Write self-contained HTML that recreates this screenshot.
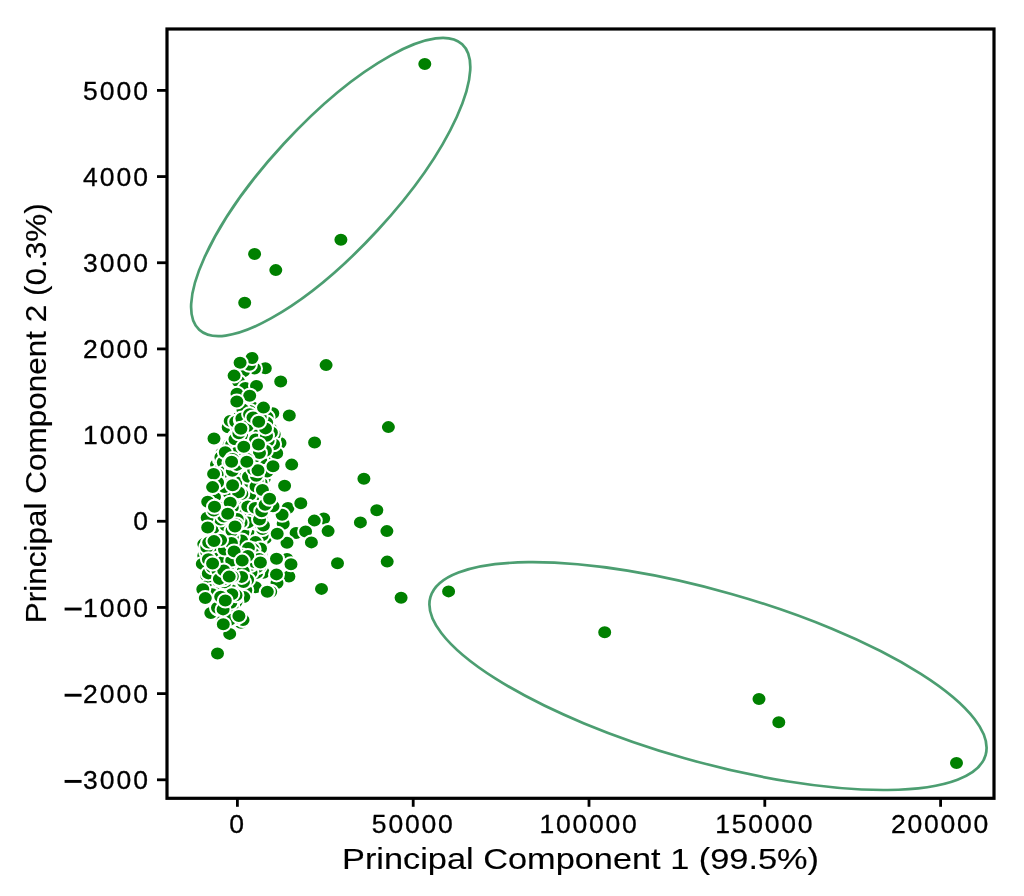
<!DOCTYPE html>
<html><head><meta charset="utf-8"><style>html,body{margin:0;padding:0;background:#fff;overflow:hidden;width:1024px;height:896px;}svg{display:block;will-change:transform;}</style></head>
<body>
<svg width="1024" height="896" viewBox="0 0 1024 896">
<rect width="1024" height="896" fill="#fff"/>
<g fill="#008000" stroke="#fff" stroke-width="2.0">
<ellipse cx="265.3" cy="368.3" rx="7.5" ry="7.0"/>
<ellipse cx="254.5" cy="368.5" rx="7.5" ry="7.0"/>
<ellipse cx="243.5" cy="371.3" rx="7.5" ry="7.0"/>
<ellipse cx="249.4" cy="364.8" rx="7.5" ry="7.0"/>
<ellipse cx="252.0" cy="358.0" rx="7.5" ry="7.0"/>
<ellipse cx="238.5" cy="381.5" rx="7.5" ry="7.0"/>
<ellipse cx="245.3" cy="387.9" rx="7.5" ry="7.0"/>
<ellipse cx="237.0" cy="393.7" rx="7.5" ry="7.0"/>
<ellipse cx="255.5" cy="587.3" rx="7.5" ry="7.0"/>
<ellipse cx="229.7" cy="633.9" rx="7.5" ry="7.0"/>
<ellipse cx="288.9" cy="576.5" rx="7.5" ry="7.0"/>
<ellipse cx="288.0" cy="508.0" rx="7.5" ry="7.0"/>
<ellipse cx="283.2" cy="523.8" rx="7.5" ry="7.0"/>
<ellipse cx="282.1" cy="514.8" rx="7.5" ry="7.0"/>
<ellipse cx="247.7" cy="535.3" rx="7.5" ry="7.0"/>
<ellipse cx="247.7" cy="529.5" rx="7.5" ry="7.0"/>
<ellipse cx="256.4" cy="531.3" rx="7.5" ry="7.0"/>
<ellipse cx="208.7" cy="578.1" rx="7.5" ry="7.0"/>
<ellipse cx="271.1" cy="454.0" rx="7.5" ry="7.0"/>
<ellipse cx="247.3" cy="516.5" rx="7.5" ry="7.0"/>
<ellipse cx="219.9" cy="464.6" rx="7.5" ry="7.0"/>
<ellipse cx="241.1" cy="589.3" rx="7.5" ry="7.0"/>
<ellipse cx="232.7" cy="440.3" rx="7.5" ry="7.0"/>
<ellipse cx="255.2" cy="540.1" rx="7.5" ry="7.0"/>
<ellipse cx="242.0" cy="535.1" rx="7.5" ry="7.0"/>
<ellipse cx="265.3" cy="538.2" rx="7.5" ry="7.0"/>
<ellipse cx="272.8" cy="413.2" rx="7.5" ry="7.0"/>
<ellipse cx="245.8" cy="590.3" rx="7.5" ry="7.0"/>
<ellipse cx="225.1" cy="492.9" rx="7.5" ry="7.0"/>
<ellipse cx="249.2" cy="574.6" rx="7.5" ry="7.0"/>
<ellipse cx="228.2" cy="427.2" rx="7.5" ry="7.0"/>
<ellipse cx="242.9" cy="491.0" rx="7.5" ry="7.0"/>
<ellipse cx="245.8" cy="513.8" rx="7.5" ry="7.0"/>
<ellipse cx="210.6" cy="584.4" rx="7.5" ry="7.0"/>
<ellipse cx="253.0" cy="535.8" rx="7.5" ry="7.0"/>
<ellipse cx="217.5" cy="554.8" rx="7.5" ry="7.0"/>
<ellipse cx="270.2" cy="451.0" rx="7.5" ry="7.0"/>
<ellipse cx="229.2" cy="444.8" rx="7.5" ry="7.0"/>
<ellipse cx="221.4" cy="453.6" rx="7.5" ry="7.0"/>
<ellipse cx="226.2" cy="588.1" rx="7.5" ry="7.0"/>
<ellipse cx="213.1" cy="517.8" rx="7.5" ry="7.0"/>
<ellipse cx="216.5" cy="464.6" rx="7.5" ry="7.0"/>
<ellipse cx="213.2" cy="573.3" rx="7.5" ry="7.0"/>
<ellipse cx="241.9" cy="541.1" rx="7.5" ry="7.0"/>
<ellipse cx="224.3" cy="531.4" rx="7.5" ry="7.0"/>
<ellipse cx="224.1" cy="613.8" rx="7.5" ry="7.0"/>
<ellipse cx="226.0" cy="618.2" rx="7.5" ry="7.0"/>
<ellipse cx="231.4" cy="566.7" rx="7.5" ry="7.0"/>
<ellipse cx="248.1" cy="446.3" rx="7.5" ry="7.0"/>
<ellipse cx="229.5" cy="555.5" rx="7.5" ry="7.0"/>
<ellipse cx="287.0" cy="559.0" rx="7.5" ry="7.0"/>
<ellipse cx="280.0" cy="443.0" rx="7.5" ry="7.0"/>
<ellipse cx="296.1" cy="533.0" rx="7.5" ry="7.0"/>
<ellipse cx="244.9" cy="445.6" rx="7.5" ry="7.0"/>
<ellipse cx="267.1" cy="417.1" rx="7.5" ry="7.0"/>
<ellipse cx="252.6" cy="407.7" rx="7.5" ry="7.0"/>
<ellipse cx="235.0" cy="437.0" rx="7.5" ry="7.0"/>
<ellipse cx="229.4" cy="570.2" rx="7.5" ry="7.0"/>
<ellipse cx="220.8" cy="525.6" rx="7.5" ry="7.0"/>
<ellipse cx="230.4" cy="588.3" rx="7.5" ry="7.0"/>
<ellipse cx="219.7" cy="531.6" rx="7.5" ry="7.0"/>
<ellipse cx="261.3" cy="445.8" rx="7.5" ry="7.0"/>
<ellipse cx="220.4" cy="459.4" rx="7.5" ry="7.0"/>
<ellipse cx="237.5" cy="447.0" rx="7.5" ry="7.0"/>
<ellipse cx="272.6" cy="439.8" rx="7.5" ry="7.0"/>
<ellipse cx="243.9" cy="549.9" rx="7.5" ry="7.0"/>
<ellipse cx="247.7" cy="437.0" rx="7.5" ry="7.0"/>
<ellipse cx="207.4" cy="564.8" rx="7.5" ry="7.0"/>
<ellipse cx="223.9" cy="459.9" rx="7.5" ry="7.0"/>
<ellipse cx="259.0" cy="543.0" rx="7.5" ry="7.0"/>
<ellipse cx="220.9" cy="457.3" rx="7.5" ry="7.0"/>
<ellipse cx="261.4" cy="552.9" rx="7.5" ry="7.0"/>
<ellipse cx="254.0" cy="522.4" rx="7.5" ry="7.0"/>
<ellipse cx="206.7" cy="575.6" rx="7.5" ry="7.0"/>
<ellipse cx="263.4" cy="572.7" rx="7.5" ry="7.0"/>
<ellipse cx="236.3" cy="589.5" rx="7.5" ry="7.0"/>
<ellipse cx="214.0" cy="582.9" rx="7.5" ry="7.0"/>
<ellipse cx="235.5" cy="552.4" rx="7.5" ry="7.0"/>
<ellipse cx="236.8" cy="584.0" rx="7.5" ry="7.0"/>
<ellipse cx="323.7" cy="518.5" rx="7.5" ry="7.0"/>
<ellipse cx="224.2" cy="477.0" rx="7.5" ry="7.0"/>
<ellipse cx="249.2" cy="543.4" rx="7.5" ry="7.0"/>
<ellipse cx="211.6" cy="561.1" rx="7.5" ry="7.0"/>
<ellipse cx="224.8" cy="489.6" rx="7.5" ry="7.0"/>
<ellipse cx="231.4" cy="450.1" rx="7.5" ry="7.0"/>
<ellipse cx="234.1" cy="494.9" rx="7.5" ry="7.0"/>
<ellipse cx="223.3" cy="553.2" rx="7.5" ry="7.0"/>
<ellipse cx="250.8" cy="434.6" rx="7.5" ry="7.0"/>
<ellipse cx="248.3" cy="424.0" rx="7.5" ry="7.0"/>
<ellipse cx="266.4" cy="456.1" rx="7.5" ry="7.0"/>
<ellipse cx="232.6" cy="513.4" rx="7.5" ry="7.0"/>
<ellipse cx="277.0" cy="583.0" rx="7.5" ry="7.0"/>
<ellipse cx="220.4" cy="616.0" rx="7.5" ry="7.0"/>
<ellipse cx="243.8" cy="597.1" rx="7.5" ry="7.0"/>
<ellipse cx="243.3" cy="469.7" rx="7.5" ry="7.0"/>
<ellipse cx="235.4" cy="561.3" rx="7.5" ry="7.0"/>
<ellipse cx="235.0" cy="472.5" rx="7.5" ry="7.0"/>
<ellipse cx="244.5" cy="480.1" rx="7.5" ry="7.0"/>
<ellipse cx="222.3" cy="616.2" rx="7.5" ry="7.0"/>
<ellipse cx="226.6" cy="567.1" rx="7.5" ry="7.0"/>
<ellipse cx="256.5" cy="494.2" rx="7.5" ry="7.0"/>
<ellipse cx="217.8" cy="500.1" rx="7.5" ry="7.0"/>
<ellipse cx="236.0" cy="602.0" rx="7.5" ry="7.0"/>
<ellipse cx="238.7" cy="417.6" rx="7.5" ry="7.0"/>
<ellipse cx="212.2" cy="549.0" rx="7.5" ry="7.0"/>
<ellipse cx="262.8" cy="438.3" rx="7.5" ry="7.0"/>
<ellipse cx="237.9" cy="536.0" rx="7.5" ry="7.0"/>
<ellipse cx="262.1" cy="535.3" rx="7.5" ry="7.0"/>
<ellipse cx="262.4" cy="529.0" rx="7.5" ry="7.0"/>
<ellipse cx="220.7" cy="469.5" rx="7.5" ry="7.0"/>
<ellipse cx="214.0" cy="492.3" rx="7.5" ry="7.0"/>
<ellipse cx="237.9" cy="471.0" rx="7.5" ry="7.0"/>
<ellipse cx="255.5" cy="505.0" rx="7.5" ry="7.0"/>
<ellipse cx="243.8" cy="451.0" rx="7.5" ry="7.0"/>
<ellipse cx="240.9" cy="622.7" rx="7.5" ry="7.0"/>
<ellipse cx="237.2" cy="487.3" rx="7.5" ry="7.0"/>
<ellipse cx="231.4" cy="475.7" rx="7.5" ry="7.0"/>
<ellipse cx="231.9" cy="607.0" rx="7.5" ry="7.0"/>
<ellipse cx="203.8" cy="555.8" rx="7.5" ry="7.0"/>
<ellipse cx="268.7" cy="462.3" rx="7.5" ry="7.0"/>
<ellipse cx="235.6" cy="500.8" rx="7.5" ry="7.0"/>
<ellipse cx="238.5" cy="584.4" rx="7.5" ry="7.0"/>
<ellipse cx="252.6" cy="426.3" rx="7.5" ry="7.0"/>
<ellipse cx="232.5" cy="519.8" rx="7.5" ry="7.0"/>
<ellipse cx="276.7" cy="453.3" rx="7.5" ry="7.0"/>
<ellipse cx="255.5" cy="542.1" rx="7.5" ry="7.0"/>
<ellipse cx="256.7" cy="572.9" rx="7.5" ry="7.0"/>
<ellipse cx="262.8" cy="428.0" rx="7.5" ry="7.0"/>
<ellipse cx="218.5" cy="535.4" rx="7.5" ry="7.0"/>
<ellipse cx="226.0" cy="596.7" rx="7.5" ry="7.0"/>
<ellipse cx="224.8" cy="512.6" rx="7.5" ry="7.0"/>
<ellipse cx="238.5" cy="528.5" rx="7.5" ry="7.0"/>
<ellipse cx="266.2" cy="446.9" rx="7.5" ry="7.0"/>
<ellipse cx="223.0" cy="543.3" rx="7.5" ry="7.0"/>
<ellipse cx="229.1" cy="585.7" rx="7.5" ry="7.0"/>
<ellipse cx="241.3" cy="505.2" rx="7.5" ry="7.0"/>
<ellipse cx="242.2" cy="429.5" rx="7.5" ry="7.0"/>
<ellipse cx="254.8" cy="501.9" rx="7.5" ry="7.0"/>
<ellipse cx="249.0" cy="463.8" rx="7.5" ry="7.0"/>
<ellipse cx="249.2" cy="452.3" rx="7.5" ry="7.0"/>
<ellipse cx="259.8" cy="420.5" rx="7.5" ry="7.0"/>
<ellipse cx="230.2" cy="420.9" rx="7.5" ry="7.0"/>
<ellipse cx="220.2" cy="603.2" rx="7.5" ry="7.0"/>
<ellipse cx="219.7" cy="555.7" rx="7.5" ry="7.0"/>
<ellipse cx="235.4" cy="457.8" rx="7.5" ry="7.0"/>
<ellipse cx="244.0" cy="439.4" rx="7.5" ry="7.0"/>
<ellipse cx="259.7" cy="488.8" rx="7.5" ry="7.0"/>
<ellipse cx="203.8" cy="544.1" rx="7.5" ry="7.0"/>
<ellipse cx="274.2" cy="434.2" rx="7.5" ry="7.0"/>
<ellipse cx="230.0" cy="523.0" rx="7.5" ry="7.0"/>
<ellipse cx="273.6" cy="444.3" rx="7.5" ry="7.0"/>
<ellipse cx="225.3" cy="498.2" rx="7.5" ry="7.0"/>
<ellipse cx="232.7" cy="488.2" rx="7.5" ry="7.0"/>
<ellipse cx="202.3" cy="563.9" rx="7.5" ry="7.0"/>
<ellipse cx="226.3" cy="469.5" rx="7.5" ry="7.0"/>
<ellipse cx="236.3" cy="542.3" rx="7.5" ry="7.0"/>
<ellipse cx="238.7" cy="513.5" rx="7.5" ry="7.0"/>
<ellipse cx="214.1" cy="501.1" rx="7.5" ry="7.0"/>
<ellipse cx="237.8" cy="547.2" rx="7.5" ry="7.0"/>
<ellipse cx="254.5" cy="428.7" rx="7.5" ry="7.0"/>
<ellipse cx="238.7" cy="507.0" rx="7.5" ry="7.0"/>
<ellipse cx="260.2" cy="498.7" rx="7.5" ry="7.0"/>
<ellipse cx="255.7" cy="453.9" rx="7.5" ry="7.0"/>
<ellipse cx="259.7" cy="566.2" rx="7.5" ry="7.0"/>
<ellipse cx="214.2" cy="536.7" rx="7.5" ry="7.0"/>
<ellipse cx="249.6" cy="498.4" rx="7.5" ry="7.0"/>
<ellipse cx="266.4" cy="441.1" rx="7.5" ry="7.0"/>
<ellipse cx="238.0" cy="428.7" rx="7.5" ry="7.0"/>
<ellipse cx="256.9" cy="567.3" rx="7.5" ry="7.0"/>
<ellipse cx="261.1" cy="432.3" rx="7.5" ry="7.0"/>
<ellipse cx="249.6" cy="438.5" rx="7.5" ry="7.0"/>
<ellipse cx="236.7" cy="477.4" rx="7.5" ry="7.0"/>
<ellipse cx="214.9" cy="577.6" rx="7.5" ry="7.0"/>
<ellipse cx="231.1" cy="566.8" rx="7.5" ry="7.0"/>
<ellipse cx="220.2" cy="566.7" rx="7.5" ry="7.0"/>
<ellipse cx="260.2" cy="523.7" rx="7.5" ry="7.0"/>
<ellipse cx="241.9" cy="482.2" rx="7.5" ry="7.0"/>
<ellipse cx="249.6" cy="489.8" rx="7.5" ry="7.0"/>
<ellipse cx="223.3" cy="462.2" rx="7.5" ry="7.0"/>
<ellipse cx="225.5" cy="602.3" rx="7.5" ry="7.0"/>
<ellipse cx="250.3" cy="559.8" rx="7.5" ry="7.0"/>
<ellipse cx="230.0" cy="614.9" rx="7.5" ry="7.0"/>
<ellipse cx="223.1" cy="536.0" rx="7.5" ry="7.0"/>
<ellipse cx="243.0" cy="620.0" rx="7.5" ry="7.0"/>
<ellipse cx="241.1" cy="518.0" rx="7.5" ry="7.0"/>
<ellipse cx="224.0" cy="506.9" rx="7.5" ry="7.0"/>
<ellipse cx="213.9" cy="552.9" rx="7.5" ry="7.0"/>
<ellipse cx="208.2" cy="585.5" rx="7.5" ry="7.0"/>
<ellipse cx="217.5" cy="589.9" rx="7.5" ry="7.0"/>
<ellipse cx="256.9" cy="433.9" rx="7.5" ry="7.0"/>
<ellipse cx="224.3" cy="483.2" rx="7.5" ry="7.0"/>
<ellipse cx="249.7" cy="411.0" rx="7.5" ry="7.0"/>
<ellipse cx="235.5" cy="564.2" rx="7.5" ry="7.0"/>
<ellipse cx="260.4" cy="456.4" rx="7.5" ry="7.0"/>
<ellipse cx="243.8" cy="529.1" rx="7.5" ry="7.0"/>
<ellipse cx="255.3" cy="511.8" rx="7.5" ry="7.0"/>
<ellipse cx="229.9" cy="547.4" rx="7.5" ry="7.0"/>
<ellipse cx="206.7" cy="551.9" rx="7.5" ry="7.0"/>
<ellipse cx="253.5" cy="465.8" rx="7.5" ry="7.0"/>
<ellipse cx="242.9" cy="532.3" rx="7.5" ry="7.0"/>
<ellipse cx="227.2" cy="563.6" rx="7.5" ry="7.0"/>
<ellipse cx="231.1" cy="483.1" rx="7.5" ry="7.0"/>
<ellipse cx="223.6" cy="528.2" rx="7.5" ry="7.0"/>
<ellipse cx="235.3" cy="618.2" rx="7.5" ry="7.0"/>
<ellipse cx="244.8" cy="502.7" rx="7.5" ry="7.0"/>
<ellipse cx="271.1" cy="429.3" rx="7.5" ry="7.0"/>
<ellipse cx="231.6" cy="444.8" rx="7.5" ry="7.0"/>
<ellipse cx="259.8" cy="475.0" rx="7.5" ry="7.0"/>
<ellipse cx="244.5" cy="513.9" rx="7.5" ry="7.0"/>
<ellipse cx="210.8" cy="613.0" rx="7.5" ry="7.0"/>
<ellipse cx="243.0" cy="501.1" rx="7.5" ry="7.0"/>
<ellipse cx="273.0" cy="506.3" rx="7.5" ry="7.0"/>
<ellipse cx="270.7" cy="591.8" rx="7.5" ry="7.0"/>
<ellipse cx="250.8" cy="493.5" rx="7.5" ry="7.0"/>
<ellipse cx="268.1" cy="440.7" rx="7.5" ry="7.0"/>
<ellipse cx="208.3" cy="573.4" rx="7.5" ry="7.0"/>
<ellipse cx="212.9" cy="523.6" rx="7.5" ry="7.0"/>
<ellipse cx="241.9" cy="477.2" rx="7.5" ry="7.0"/>
<ellipse cx="255.6" cy="447.7" rx="7.5" ry="7.0"/>
<ellipse cx="251.0" cy="572.5" rx="7.5" ry="7.0"/>
<ellipse cx="241.5" cy="435.3" rx="7.5" ry="7.0"/>
<ellipse cx="261.7" cy="465.9" rx="7.5" ry="7.0"/>
<ellipse cx="250.9" cy="564.9" rx="7.5" ry="7.0"/>
<ellipse cx="212.7" cy="529.0" rx="7.5" ry="7.0"/>
<ellipse cx="219.3" cy="486.3" rx="7.5" ry="7.0"/>
<ellipse cx="255.6" cy="439.5" rx="7.5" ry="7.0"/>
<ellipse cx="211.3" cy="590.1" rx="7.5" ry="7.0"/>
<ellipse cx="259.0" cy="450.5" rx="7.5" ry="7.0"/>
<ellipse cx="235.5" cy="597.6" rx="7.5" ry="7.0"/>
<ellipse cx="271.4" cy="432.5" rx="7.5" ry="7.0"/>
<ellipse cx="235.0" cy="439.3" rx="7.5" ry="7.0"/>
<ellipse cx="250.0" cy="510.6" rx="7.5" ry="7.0"/>
<ellipse cx="243.3" cy="465.6" rx="7.5" ry="7.0"/>
<ellipse cx="219.6" cy="583.1" rx="7.5" ry="7.0"/>
<ellipse cx="260.0" cy="504.5" rx="7.5" ry="7.0"/>
<ellipse cx="261.3" cy="517.7" rx="7.5" ry="7.0"/>
<ellipse cx="242.7" cy="453.3" rx="7.5" ry="7.0"/>
<ellipse cx="225.5" cy="471.4" rx="7.5" ry="7.0"/>
<ellipse cx="220.2" cy="492.5" rx="7.5" ry="7.0"/>
<ellipse cx="253.8" cy="561.9" rx="7.5" ry="7.0"/>
<ellipse cx="266.5" cy="435.7" rx="7.5" ry="7.0"/>
<ellipse cx="260.8" cy="495.1" rx="7.5" ry="7.0"/>
<ellipse cx="259.5" cy="552.7" rx="7.5" ry="7.0"/>
<ellipse cx="241.2" cy="560.8" rx="7.5" ry="7.0"/>
<ellipse cx="232.8" cy="498.5" rx="7.5" ry="7.0"/>
<ellipse cx="212.5" cy="567.2" rx="7.5" ry="7.0"/>
<ellipse cx="223.3" cy="585.4" rx="7.5" ry="7.0"/>
<ellipse cx="260.9" cy="461.0" rx="7.5" ry="7.0"/>
<ellipse cx="249.7" cy="494.9" rx="7.5" ry="7.0"/>
<ellipse cx="211.5" cy="542.2" rx="7.5" ry="7.0"/>
<ellipse cx="214.5" cy="496.9" rx="7.5" ry="7.0"/>
<ellipse cx="235.3" cy="570.4" rx="7.5" ry="7.0"/>
<ellipse cx="225.9" cy="525.6" rx="7.5" ry="7.0"/>
<ellipse cx="260.5" cy="548.4" rx="7.5" ry="7.0"/>
<ellipse cx="243.4" cy="487.8" rx="7.5" ry="7.0"/>
<ellipse cx="215.0" cy="593.2" rx="7.5" ry="7.0"/>
<ellipse cx="237.6" cy="577.7" rx="7.5" ry="7.0"/>
<ellipse cx="241.6" cy="540.5" rx="7.5" ry="7.0"/>
<ellipse cx="230.8" cy="602.8" rx="7.5" ry="7.0"/>
<ellipse cx="266.7" cy="422.6" rx="7.5" ry="7.0"/>
<ellipse cx="236.3" cy="453.0" rx="7.5" ry="7.0"/>
<ellipse cx="232.3" cy="537.3" rx="7.5" ry="7.0"/>
<ellipse cx="217.9" cy="570.3" rx="7.5" ry="7.0"/>
<ellipse cx="217.9" cy="548.0" rx="7.5" ry="7.0"/>
<ellipse cx="253.2" cy="518.1" rx="7.5" ry="7.0"/>
<ellipse cx="236.0" cy="595.2" rx="7.5" ry="7.0"/>
<ellipse cx="242.0" cy="567.0" rx="7.5" ry="7.0"/>
<ellipse cx="247.8" cy="506.5" rx="7.5" ry="7.0"/>
<ellipse cx="220.6" cy="519.6" rx="7.5" ry="7.0"/>
<ellipse cx="224.9" cy="582.2" rx="7.5" ry="7.0"/>
<ellipse cx="232.0" cy="530.7" rx="7.5" ry="7.0"/>
<ellipse cx="243.2" cy="571.2" rx="7.5" ry="7.0"/>
<ellipse cx="253.1" cy="549.2" rx="7.5" ry="7.0"/>
<ellipse cx="229.7" cy="494.1" rx="7.5" ry="7.0"/>
<ellipse cx="259.9" cy="471.9" rx="7.5" ry="7.0"/>
<ellipse cx="248.0" cy="522.4" rx="7.5" ry="7.0"/>
<ellipse cx="265.4" cy="450.8" rx="7.5" ry="7.0"/>
<ellipse cx="207.2" cy="517.7" rx="7.5" ry="7.0"/>
<ellipse cx="225.3" cy="452.3" rx="7.5" ry="7.0"/>
<ellipse cx="241.1" cy="522.4" rx="7.5" ry="7.0"/>
<ellipse cx="247.6" cy="579.7" rx="7.5" ry="7.0"/>
<ellipse cx="217.9" cy="558.6" rx="7.5" ry="7.0"/>
<ellipse cx="264.3" cy="478.3" rx="7.5" ry="7.0"/>
<ellipse cx="244.0" cy="458.2" rx="7.5" ry="7.0"/>
<ellipse cx="223.1" cy="561.8" rx="7.5" ry="7.0"/>
<ellipse cx="217.0" cy="511.0" rx="7.5" ry="7.0"/>
<ellipse cx="250.6" cy="468.6" rx="7.5" ry="7.0"/>
<ellipse cx="261.0" cy="482.7" rx="7.5" ry="7.0"/>
<ellipse cx="253.1" cy="553.8" rx="7.5" ry="7.0"/>
<ellipse cx="206.8" cy="547.2" rx="7.5" ry="7.0"/>
<ellipse cx="236.0" cy="482.3" rx="7.5" ry="7.0"/>
<ellipse cx="259.2" cy="559.1" rx="7.5" ry="7.0"/>
<ellipse cx="267.1" cy="471.5" rx="7.5" ry="7.0"/>
<ellipse cx="263.4" cy="525.5" rx="7.5" ry="7.0"/>
<ellipse cx="223.4" cy="579.3" rx="7.5" ry="7.0"/>
<ellipse cx="248.4" cy="548.1" rx="7.5" ry="7.0"/>
<ellipse cx="260.2" cy="417.0" rx="7.5" ry="7.0"/>
<ellipse cx="218.4" cy="608.8" rx="7.5" ry="7.0"/>
<ellipse cx="208.4" cy="559.2" rx="7.5" ry="7.0"/>
<ellipse cx="243.5" cy="582.1" rx="7.5" ry="7.0"/>
<ellipse cx="212.1" cy="594.3" rx="7.5" ry="7.0"/>
<ellipse cx="232.3" cy="470.7" rx="7.5" ry="7.0"/>
<ellipse cx="238.9" cy="433.3" rx="7.5" ry="7.0"/>
<ellipse cx="217.5" cy="607.7" rx="7.5" ry="7.0"/>
<ellipse cx="241.4" cy="555.3" rx="7.5" ry="7.0"/>
<ellipse cx="254.6" cy="456.9" rx="7.5" ry="7.0"/>
<ellipse cx="255.2" cy="507.9" rx="7.5" ry="7.0"/>
<ellipse cx="257.0" cy="481.1" rx="7.5" ry="7.0"/>
<ellipse cx="249.7" cy="474.4" rx="7.5" ry="7.0"/>
<ellipse cx="250.7" cy="482.4" rx="7.5" ry="7.0"/>
<ellipse cx="243.9" cy="414.1" rx="7.5" ry="7.0"/>
<ellipse cx="224.3" cy="487.1" rx="7.5" ry="7.0"/>
<ellipse cx="232.3" cy="507.4" rx="7.5" ry="7.0"/>
<ellipse cx="255.9" cy="421.7" rx="7.5" ry="7.0"/>
<ellipse cx="248.5" cy="476.8" rx="7.5" ry="7.0"/>
<ellipse cx="241.7" cy="576.9" rx="7.5" ry="7.0"/>
<ellipse cx="235.7" cy="421.7" rx="7.5" ry="7.0"/>
<ellipse cx="242.9" cy="409.6" rx="7.5" ry="7.0"/>
<ellipse cx="232.3" cy="576.5" rx="7.5" ry="7.0"/>
<ellipse cx="241.3" cy="420.1" rx="7.5" ry="7.0"/>
<ellipse cx="208.7" cy="542.6" rx="7.5" ry="7.0"/>
<ellipse cx="256.0" cy="486.5" rx="7.5" ry="7.0"/>
<ellipse cx="231.8" cy="594.3" rx="7.5" ry="7.0"/>
<ellipse cx="241.9" cy="418.4" rx="7.5" ry="7.0"/>
<ellipse cx="217.1" cy="474.5" rx="7.5" ry="7.0"/>
<ellipse cx="249.6" cy="414.3" rx="7.5" ry="7.0"/>
<ellipse cx="232.5" cy="458.9" rx="7.5" ry="7.0"/>
<ellipse cx="265.5" cy="428.4" rx="7.5" ry="7.0"/>
<ellipse cx="259.5" cy="519.6" rx="7.5" ry="7.0"/>
<ellipse cx="231.7" cy="560.5" rx="7.5" ry="7.0"/>
<ellipse cx="241.8" cy="493.9" rx="7.5" ry="7.0"/>
<ellipse cx="256.3" cy="475.7" rx="7.5" ry="7.0"/>
<ellipse cx="253.5" cy="469.3" rx="7.5" ry="7.0"/>
<ellipse cx="259.5" cy="453.0" rx="7.5" ry="7.0"/>
<ellipse cx="247.5" cy="426.1" rx="7.5" ry="7.0"/>
<ellipse cx="238.5" cy="492.3" rx="7.5" ry="7.0"/>
<ellipse cx="236.9" cy="464.9" rx="7.5" ry="7.0"/>
<ellipse cx="217.6" cy="482.5" rx="7.5" ry="7.0"/>
<ellipse cx="253.0" cy="417.4" rx="7.5" ry="7.0"/>
<ellipse cx="247.2" cy="459.1" rx="7.5" ry="7.0"/>
<ellipse cx="223.8" cy="516.5" rx="7.5" ry="7.0"/>
<ellipse cx="224.5" cy="549.5" rx="7.5" ry="7.0"/>
<ellipse cx="220.7" cy="596.7" rx="7.5" ry="7.0"/>
<ellipse cx="237.2" cy="518.9" rx="7.5" ry="7.0"/>
<ellipse cx="231.4" cy="543.0" rx="7.5" ry="7.0"/>
<ellipse cx="219.4" cy="578.9" rx="7.5" ry="7.0"/>
<ellipse cx="202.8" cy="589.3" rx="7.5" ry="7.0"/>
<ellipse cx="220.9" cy="507.9" rx="7.5" ry="7.0"/>
<ellipse cx="229.6" cy="619.8" rx="7.5" ry="7.0"/>
<ellipse cx="212.3" cy="487.1" rx="7.5" ry="7.0"/>
<ellipse cx="223.8" cy="570.4" rx="7.5" ry="7.0"/>
<ellipse cx="261.7" cy="511.2" rx="7.5" ry="7.0"/>
<ellipse cx="223.1" cy="609.4" rx="7.5" ry="7.0"/>
<ellipse cx="229.9" cy="462.4" rx="7.5" ry="7.0"/>
<ellipse cx="220.6" cy="540.1" rx="7.5" ry="7.0"/>
<ellipse cx="213.7" cy="510.6" rx="7.5" ry="7.0"/>
<ellipse cx="236.4" cy="524.4" rx="7.5" ry="7.0"/>
<ellipse cx="265.8" cy="494.1" rx="7.5" ry="7.0"/>
<ellipse cx="213.2" cy="505.7" rx="7.5" ry="7.0"/>
<ellipse cx="207.7" cy="501.8" rx="7.5" ry="7.0"/>
<ellipse cx="265.1" cy="504.8" rx="7.5" ry="7.0"/>
<ellipse cx="247.8" cy="555.9" rx="7.5" ry="7.0"/>
<ellipse cx="424.8" cy="64.0" rx="7.5" ry="7.0"/>
<ellipse cx="254.6" cy="254.0" rx="7.5" ry="7.0"/>
<ellipse cx="275.8" cy="270.1" rx="7.5" ry="7.0"/>
<ellipse cx="340.9" cy="239.7" rx="7.5" ry="7.0"/>
<ellipse cx="244.7" cy="302.8" rx="7.5" ry="7.0"/>
<ellipse cx="326.1" cy="365.1" rx="7.5" ry="7.0"/>
<ellipse cx="388.4" cy="427.1" rx="7.5" ry="7.0"/>
<ellipse cx="363.9" cy="478.7" rx="7.5" ry="7.0"/>
<ellipse cx="376.8" cy="510.2" rx="7.5" ry="7.0"/>
<ellipse cx="360.4" cy="522.4" rx="7.5" ry="7.0"/>
<ellipse cx="386.9" cy="531.1" rx="7.5" ry="7.0"/>
<ellipse cx="387.2" cy="561.6" rx="7.5" ry="7.0"/>
<ellipse cx="401.1" cy="597.7" rx="7.5" ry="7.0"/>
<ellipse cx="337.5" cy="563.3" rx="7.5" ry="7.0"/>
<ellipse cx="321.5" cy="588.9" rx="7.5" ry="7.0"/>
<ellipse cx="314.6" cy="442.5" rx="7.5" ry="7.0"/>
<ellipse cx="448.6" cy="591.4" rx="7.5" ry="7.0"/>
<ellipse cx="604.7" cy="632.3" rx="7.5" ry="7.0"/>
<ellipse cx="759.0" cy="699.0" rx="7.5" ry="7.0"/>
<ellipse cx="778.8" cy="722.2" rx="7.5" ry="7.0"/>
<ellipse cx="956.5" cy="763.0" rx="7.5" ry="7.0"/>
<ellipse cx="240.1" cy="362.7" rx="7.5" ry="7.0"/>
<ellipse cx="234.1" cy="375.6" rx="7.5" ry="7.0"/>
<ellipse cx="280.7" cy="381.5" rx="7.5" ry="7.0"/>
<ellipse cx="256.5" cy="385.9" rx="7.5" ry="7.0"/>
<ellipse cx="249.7" cy="395.7" rx="7.5" ry="7.0"/>
<ellipse cx="236.8" cy="401.5" rx="7.5" ry="7.0"/>
<ellipse cx="263.5" cy="407.6" rx="7.5" ry="7.0"/>
<ellipse cx="258.7" cy="421.7" rx="7.5" ry="7.0"/>
<ellipse cx="240.9" cy="428.7" rx="7.5" ry="7.0"/>
<ellipse cx="214.0" cy="438.5" rx="7.5" ry="7.0"/>
<ellipse cx="289.3" cy="415.5" rx="7.5" ry="7.0"/>
<ellipse cx="243.8" cy="446.8" rx="7.5" ry="7.0"/>
<ellipse cx="258.5" cy="444.5" rx="7.5" ry="7.0"/>
<ellipse cx="273.0" cy="466.3" rx="7.5" ry="7.0"/>
<ellipse cx="291.7" cy="464.6" rx="7.5" ry="7.0"/>
<ellipse cx="258.0" cy="470.2" rx="7.5" ry="7.0"/>
<ellipse cx="231.6" cy="461.7" rx="7.5" ry="7.0"/>
<ellipse cx="246.8" cy="461.7" rx="7.5" ry="7.0"/>
<ellipse cx="213.6" cy="473.9" rx="7.5" ry="7.0"/>
<ellipse cx="232.6" cy="485.2" rx="7.5" ry="7.0"/>
<ellipse cx="212.6" cy="487.1" rx="7.5" ry="7.0"/>
<ellipse cx="284.6" cy="485.7" rx="7.5" ry="7.0"/>
<ellipse cx="262.4" cy="490.0" rx="7.5" ry="7.0"/>
<ellipse cx="269.6" cy="498.8" rx="7.5" ry="7.0"/>
<ellipse cx="230.2" cy="502.7" rx="7.5" ry="7.0"/>
<ellipse cx="214.5" cy="506.8" rx="7.5" ry="7.0"/>
<ellipse cx="300.8" cy="503.2" rx="7.5" ry="7.0"/>
<ellipse cx="314.3" cy="520.6" rx="7.5" ry="7.0"/>
<ellipse cx="328.1" cy="531.1" rx="7.5" ry="7.0"/>
<ellipse cx="305.6" cy="531.5" rx="7.5" ry="7.0"/>
<ellipse cx="311.4" cy="542.4" rx="7.5" ry="7.0"/>
<ellipse cx="287.0" cy="542.7" rx="7.5" ry="7.0"/>
<ellipse cx="277.2" cy="533.8" rx="7.5" ry="7.0"/>
<ellipse cx="291.0" cy="564.3" rx="7.5" ry="7.0"/>
<ellipse cx="276.5" cy="574.4" rx="7.5" ry="7.0"/>
<ellipse cx="276.5" cy="558.7" rx="7.5" ry="7.0"/>
<ellipse cx="227.7" cy="513.8" rx="7.5" ry="7.0"/>
<ellipse cx="235.0" cy="526.5" rx="7.5" ry="7.0"/>
<ellipse cx="214.0" cy="541.1" rx="7.5" ry="7.0"/>
<ellipse cx="234.1" cy="551.4" rx="7.5" ry="7.0"/>
<ellipse cx="260.4" cy="562.5" rx="7.5" ry="7.0"/>
<ellipse cx="212.6" cy="563.5" rx="7.5" ry="7.0"/>
<ellipse cx="207.7" cy="527.5" rx="7.5" ry="7.0"/>
<ellipse cx="242.2" cy="560.6" rx="7.5" ry="7.0"/>
<ellipse cx="229.2" cy="576.6" rx="7.5" ry="7.0"/>
<ellipse cx="205.3" cy="598.1" rx="7.5" ry="7.0"/>
<ellipse cx="225.3" cy="600.5" rx="7.5" ry="7.0"/>
<ellipse cx="267.3" cy="591.7" rx="7.5" ry="7.0"/>
<ellipse cx="238.9" cy="616.0" rx="7.5" ry="7.0"/>
<ellipse cx="223.3" cy="624.2" rx="7.5" ry="7.0"/>
<ellipse cx="217.5" cy="653.5" rx="7.5" ry="7.0"/>
</g>
<g fill="none" stroke="#4c9e71" stroke-width="2.7">
<ellipse cx="330.7" cy="187.0" rx="194.0" ry="63.8" transform="rotate(-47.33 330.7 187.0)"/>
<ellipse cx="708.0" cy="676.1" rx="288.6" ry="85.4" transform="rotate(15.87 708.0 676.1)"/>
</g>
<rect x="167" y="29" width="827" height="769.3" fill="none" stroke="#000" stroke-width="3.2"/>
<g stroke="#000" stroke-width="2.8">
<line x1="157" y1="90.40" x2="167" y2="90.40"/>
<line x1="157" y1="176.57" x2="167" y2="176.57"/>
<line x1="157" y1="262.75" x2="167" y2="262.75"/>
<line x1="157" y1="348.92" x2="167" y2="348.92"/>
<line x1="157" y1="435.10" x2="167" y2="435.10"/>
<line x1="157" y1="521.27" x2="167" y2="521.27"/>
<line x1="157" y1="607.45" x2="167" y2="607.45"/>
<line x1="157" y1="693.62" x2="167" y2="693.62"/>
<line x1="157" y1="779.80" x2="167" y2="779.80"/>
<line x1="237.40" y1="798.3" x2="237.40" y2="806.8"/>
<line x1="413.20" y1="798.3" x2="413.20" y2="806.8"/>
<line x1="589.00" y1="798.3" x2="589.00" y2="806.8"/>
<line x1="764.80" y1="798.3" x2="764.80" y2="806.8"/>
<line x1="940.60" y1="798.3" x2="940.60" y2="806.8"/>
</g>
<g font-family="Liberation Sans, sans-serif" font-size="25.5" fill="#000" stroke="#000" stroke-width="0.3">
<text transform="translate(147.9 99.60) scale(1.04 1)" text-anchor="end" textLength="62.31" lengthAdjust="spacing">5000</text>
<text transform="translate(147.9 185.77) scale(1.04 1)" text-anchor="end" textLength="62.31" lengthAdjust="spacing">4000</text>
<text transform="translate(147.9 271.95) scale(1.04 1)" text-anchor="end" textLength="62.31" lengthAdjust="spacing">3000</text>
<text transform="translate(147.9 358.12) scale(1.04 1)" text-anchor="end" textLength="62.31" lengthAdjust="spacing">2000</text>
<text transform="translate(147.9 444.30) scale(1.04 1)" text-anchor="end" textLength="62.31" lengthAdjust="spacing">1000</text>
<text transform="translate(147.9 530.48) scale(1.04 1)" text-anchor="end" textLength="15.58" lengthAdjust="spacing">0</text>
<text transform="translate(147.9 616.65) scale(1.04 1)" text-anchor="end" textLength="62.31" lengthAdjust="spacing">1000</text>
<rect x="64.6" y="607.60" width="17" height="2.9" stroke="none"/>
<text transform="translate(147.9 702.83) scale(1.04 1)" text-anchor="end" textLength="62.31" lengthAdjust="spacing">2000</text>
<rect x="64.6" y="693.77" width="17" height="2.9" stroke="none"/>
<text transform="translate(147.9 789.00) scale(1.04 1)" text-anchor="end" textLength="62.31" lengthAdjust="spacing">3000</text>
<rect x="64.6" y="779.95" width="17" height="2.9" stroke="none"/>
<text transform="translate(236.50 833.3) scale(1.04 1)" text-anchor="middle" textLength="15.58" lengthAdjust="spacing">0</text>
<text transform="translate(412.30 833.3) scale(1.04 1)" text-anchor="middle" textLength="77.88" lengthAdjust="spacing">50000</text>
<text transform="translate(588.10 833.3) scale(1.04 1)" text-anchor="middle" textLength="93.46" lengthAdjust="spacing">100000</text>
<text transform="translate(763.90 833.3) scale(1.04 1)" text-anchor="middle" textLength="93.46" lengthAdjust="spacing">150000</text>
<text transform="translate(939.70 833.3) scale(1.04 1)" text-anchor="middle" textLength="93.46" lengthAdjust="spacing">200000</text>
</g>
<g font-family="Liberation Sans, sans-serif" font-size="29.5" fill="#000" stroke="#000" stroke-width="0.12">
<text x="580.5" y="868.7" text-anchor="middle" textLength="477" lengthAdjust="spacingAndGlyphs">Principal Component 1 (99.5%)</text>
<text transform="translate(46.3 413.2) rotate(-90)" x="0" y="0" text-anchor="middle" textLength="420" lengthAdjust="spacingAndGlyphs">Principal Component 2 (0.3%)</text>
</g>
</svg>
</body></html>
